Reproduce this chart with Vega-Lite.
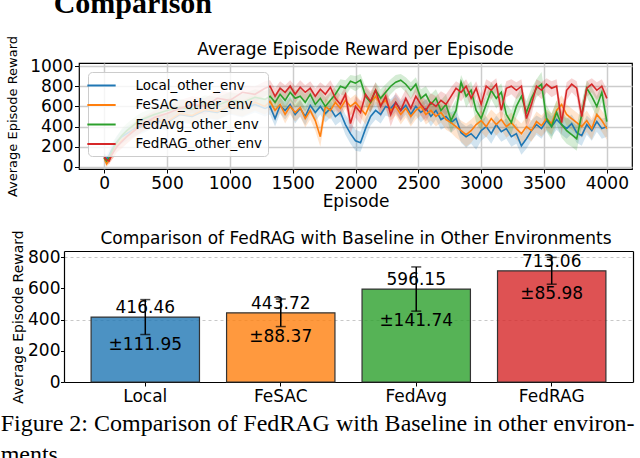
{
  "$schema": "https://vega.github.io/schema/vega-lite/v6.json",
  "padding": {"left": 0, "top": -11, "right": 0, "bottom": 0},
  "title": {
    "text": ["Figure 2: Comparison of FedRAG with Baseline in other environ-", "ments"],
    "orient": "bottom",
    "anchor": "start",
    "frame": "bounds",
    "font": "Liberation Serif",
    "fontSize": 24,
    "fontWeight": "normal",
    "color": "black",
    "baseline": "top",
    "lineHeight": 31,
    "offset": 7.3,
    "dx": -5
  },
  "config": {
    "font": "DejaVu Sans",
    "view": {"stroke": "black", "strokeWidth": 1.2},
    "axis": {
      "labelFont": "DejaVu Sans",
      "titleFont": "DejaVu Sans",
      "labelColor": "black",
      "titleColor": "black",
      "titleFontWeight": "normal",
      "tickColor": "black",
      "domain": false,
      "labelOverlap": false
    },
    "axisY": {"labelOverlap": false},
    "text": {"font": "DejaVu Sans", "color": "black"}
  },
  "spacing": 19,
  "datasets": {
    "curves": [
      {"s":"Local_other_env","e":0,"v":100,"lo":70,"hi":130},
      {"s":"Local_other_env","e":20,"v":80,"lo":40,"hi":120},
      {"s":"Local_other_env","e":40,"v":120,"lo":70,"hi":170},
      {"s":"Local_other_env","e":60,"v":170,"lo":110,"hi":230},
      {"s":"Local_other_env","e":80,"v":210,"lo":150,"hi":270},
      {"s":"Local_other_env","e":100,"v":250,"lo":180,"hi":310},
      {"s":"Local_other_env","e":140,"v":300,"lo":230,"hi":370},
      {"s":"Local_other_env","e":180,"v":330,"lo":260,"hi":400},
      {"s":"Local_other_env","e":220,"v":360,"lo":290,"hi":430},
      {"s":"Local_other_env","e":260,"v":390,"lo":320,"hi":460},
      {"s":"Local_other_env","e":300,"v":400,"lo":330,"hi":470},
      {"s":"Local_other_env","e":400,"v":460,"lo":390,"hi":530},
      {"s":"Local_other_env","e":500,"v":440,"lo":360,"hi":520},
      {"s":"Local_other_env","e":600,"v":520,"lo":440,"hi":600},
      {"s":"Local_other_env","e":700,"v":500,"lo":420,"hi":580},
      {"s":"Local_other_env","e":800,"v":560,"lo":480,"hi":640},
      {"s":"Local_other_env","e":900,"v":540,"lo":460,"hi":620},
      {"s":"Local_other_env","e":1000,"v":600,"lo":520,"hi":680},
      {"s":"Local_other_env","e":1100,"v":570,"lo":490,"hi":650},
      {"s":"Local_other_env","e":1200,"v":620,"lo":540,"hi":700},
      {"s":"Local_other_env","e":1280,"v":580,"lo":500,"hi":660},
      {"s":"Local_other_env","e":1320,"v":600,"lo":520,"hi":680},
      {"s":"Local_other_env","e":1360,"v":480,"lo":400,"hi":570},
      {"s":"Local_other_env","e":1400,"v":610,"lo":530,"hi":690},
      {"s":"Local_other_env","e":1440,"v":560,"lo":470,"hi":640},
      {"s":"Local_other_env","e":1480,"v":620,"lo":540,"hi":700},
      {"s":"Local_other_env","e":1520,"v":520,"lo":430,"hi":600},
      {"s":"Local_other_env","e":1560,"v":580,"lo":500,"hi":660},
      {"s":"Local_other_env","e":1600,"v":500,"lo":410,"hi":590},
      {"s":"Local_other_env","e":1640,"v":610,"lo":530,"hi":690},
      {"s":"Local_other_env","e":1680,"v":540,"lo":450,"hi":620},
      {"s":"Local_other_env","e":1720,"v":600,"lo":520,"hi":680},
      {"s":"Local_other_env","e":1760,"v":530,"lo":440,"hi":610},
      {"s":"Local_other_env","e":1800,"v":580,"lo":490,"hi":660},
      {"s":"Local_other_env","e":1840,"v":500,"lo":410,"hi":590},
      {"s":"Local_other_env","e":1880,"v":540,"lo":450,"hi":630},
      {"s":"Local_other_env","e":1920,"v":420,"lo":320,"hi":520},
      {"s":"Local_other_env","e":1960,"v":330,"lo":230,"hi":440},
      {"s":"Local_other_env","e":2000,"v":260,"lo":160,"hi":370},
      {"s":"Local_other_env","e":2040,"v":240,"lo":150,"hi":350},
      {"s":"Local_other_env","e":2080,"v":380,"lo":280,"hi":480},
      {"s":"Local_other_env","e":2120,"v":500,"lo":410,"hi":590},
      {"s":"Local_other_env","e":2160,"v":560,"lo":470,"hi":650},
      {"s":"Local_other_env","e":2200,"v":520,"lo":430,"hi":610},
      {"s":"Local_other_env","e":2240,"v":600,"lo":510,"hi":690},
      {"s":"Local_other_env","e":2280,"v":580,"lo":490,"hi":670},
      {"s":"Local_other_env","e":2320,"v":640,"lo":550,"hi":720},
      {"s":"Local_other_env","e":2360,"v":560,"lo":460,"hi":650},
      {"s":"Local_other_env","e":2400,"v":610,"lo":520,"hi":700},
      {"s":"Local_other_env","e":2440,"v":520,"lo":420,"hi":610},
      {"s":"Local_other_env","e":2480,"v":600,"lo":510,"hi":690},
      {"s":"Local_other_env","e":2520,"v":540,"lo":440,"hi":630},
      {"s":"Local_other_env","e":2560,"v":580,"lo":490,"hi":670},
      {"s":"Local_other_env","e":2600,"v":500,"lo":400,"hi":590},
      {"s":"Local_other_env","e":2640,"v":560,"lo":470,"hi":650},
      {"s":"Local_other_env","e":2680,"v":470,"lo":370,"hi":560},
      {"s":"Local_other_env","e":2720,"v":500,"lo":400,"hi":590},
      {"s":"Local_other_env","e":2760,"v":440,"lo":340,"hi":540},
      {"s":"Local_other_env","e":2800,"v":480,"lo":380,"hi":570},
      {"s":"Local_other_env","e":2840,"v":340,"lo":240,"hi":440},
      {"s":"Local_other_env","e":2880,"v":300,"lo":190,"hi":400},
      {"s":"Local_other_env","e":2920,"v":330,"lo":230,"hi":430},
      {"s":"Local_other_env","e":2960,"v":280,"lo":170,"hi":380},
      {"s":"Local_other_env","e":3000,"v":360,"lo":260,"hi":460},
      {"s":"Local_other_env","e":3040,"v":400,"lo":300,"hi":500},
      {"s":"Local_other_env","e":3080,"v":330,"lo":230,"hi":430},
      {"s":"Local_other_env","e":3120,"v":420,"lo":320,"hi":510},
      {"s":"Local_other_env","e":3160,"v":350,"lo":250,"hi":450},
      {"s":"Local_other_env","e":3200,"v":380,"lo":280,"hi":480},
      {"s":"Local_other_env","e":3240,"v":300,"lo":200,"hi":400},
      {"s":"Local_other_env","e":3280,"v":330,"lo":230,"hi":430},
      {"s":"Local_other_env","e":3320,"v":210,"lo":120,"hi":310},
      {"s":"Local_other_env","e":3360,"v":280,"lo":180,"hi":380},
      {"s":"Local_other_env","e":3400,"v":360,"lo":260,"hi":460},
      {"s":"Local_other_env","e":3440,"v":420,"lo":320,"hi":510},
      {"s":"Local_other_env","e":3480,"v":380,"lo":280,"hi":480},
      {"s":"Local_other_env","e":3520,"v":460,"lo":360,"hi":550},
      {"s":"Local_other_env","e":3560,"v":400,"lo":300,"hi":500},
      {"s":"Local_other_env","e":3600,"v":470,"lo":370,"hi":560},
      {"s":"Local_other_env","e":3640,"v":420,"lo":320,"hi":510},
      {"s":"Local_other_env","e":3680,"v":380,"lo":280,"hi":480},
      {"s":"Local_other_env","e":3720,"v":430,"lo":330,"hi":520},
      {"s":"Local_other_env","e":3760,"v":340,"lo":240,"hi":440},
      {"s":"Local_other_env","e":3800,"v":310,"lo":210,"hi":410},
      {"s":"Local_other_env","e":3840,"v":420,"lo":320,"hi":510},
      {"s":"Local_other_env","e":3880,"v":360,"lo":260,"hi":460},
      {"s":"Local_other_env","e":3920,"v":450,"lo":350,"hi":540},
      {"s":"Local_other_env","e":3960,"v":380,"lo":280,"hi":480},
      {"s":"Local_other_env","e":4000,"v":400,"lo":300,"hi":490},

      {"s":"FeSAC_other_env","e":0,"v":90,"lo":60,"hi":120},
      {"s":"FeSAC_other_env","e":20,"v":30,"lo":0,"hi":70},
      {"s":"FeSAC_other_env","e":40,"v":70,"lo":30,"hi":110},
      {"s":"FeSAC_other_env","e":60,"v":120,"lo":70,"hi":170},
      {"s":"FeSAC_other_env","e":80,"v":170,"lo":110,"hi":230},
      {"s":"FeSAC_other_env","e":100,"v":210,"lo":150,"hi":270},
      {"s":"FeSAC_other_env","e":140,"v":260,"lo":190,"hi":330},
      {"s":"FeSAC_other_env","e":180,"v":300,"lo":230,"hi":370},
      {"s":"FeSAC_other_env","e":220,"v":350,"lo":280,"hi":420},
      {"s":"FeSAC_other_env","e":260,"v":380,"lo":310,"hi":450},
      {"s":"FeSAC_other_env","e":300,"v":420,"lo":350,"hi":490},
      {"s":"FeSAC_other_env","e":400,"v":470,"lo":400,"hi":540},
      {"s":"FeSAC_other_env","e":500,"v":450,"lo":370,"hi":530},
      {"s":"FeSAC_other_env","e":600,"v":530,"lo":450,"hi":610},
      {"s":"FeSAC_other_env","e":700,"v":510,"lo":430,"hi":590},
      {"s":"FeSAC_other_env","e":800,"v":570,"lo":490,"hi":650},
      {"s":"FeSAC_other_env","e":900,"v":550,"lo":470,"hi":630},
      {"s":"FeSAC_other_env","e":1000,"v":610,"lo":530,"hi":690},
      {"s":"FeSAC_other_env","e":1100,"v":580,"lo":500,"hi":660},
      {"s":"FeSAC_other_env","e":1200,"v":640,"lo":560,"hi":720},
      {"s":"FeSAC_other_env","e":1280,"v":600,"lo":520,"hi":680},
      {"s":"FeSAC_other_env","e":1320,"v":650,"lo":570,"hi":730},
      {"s":"FeSAC_other_env","e":1360,"v":560,"lo":470,"hi":640},
      {"s":"FeSAC_other_env","e":1400,"v":620,"lo":540,"hi":700},
      {"s":"FeSAC_other_env","e":1440,"v":520,"lo":430,"hi":610},
      {"s":"FeSAC_other_env","e":1480,"v":600,"lo":520,"hi":680},
      {"s":"FeSAC_other_env","e":1520,"v":540,"lo":450,"hi":620},
      {"s":"FeSAC_other_env","e":1560,"v":590,"lo":500,"hi":670},
      {"s":"FeSAC_other_env","e":1600,"v":480,"lo":390,"hi":570},
      {"s":"FeSAC_other_env","e":1640,"v":560,"lo":470,"hi":640},
      {"s":"FeSAC_other_env","e":1680,"v":460,"lo":360,"hi":550},
      {"s":"FeSAC_other_env","e":1720,"v":300,"lo":200,"hi":400},
      {"s":"FeSAC_other_env","e":1760,"v":600,"lo":510,"hi":680},
      {"s":"FeSAC_other_env","e":1800,"v":560,"lo":470,"hi":640},
      {"s":"FeSAC_other_env","e":1840,"v":640,"lo":560,"hi":720},
      {"s":"FeSAC_other_env","e":1880,"v":580,"lo":490,"hi":660},
      {"s":"FeSAC_other_env","e":1920,"v":660,"lo":580,"hi":740},
      {"s":"FeSAC_other_env","e":1960,"v":600,"lo":510,"hi":680},
      {"s":"FeSAC_other_env","e":2000,"v":640,"lo":560,"hi":720},
      {"s":"FeSAC_other_env","e":2040,"v":580,"lo":490,"hi":660},
      {"s":"FeSAC_other_env","e":2080,"v":520,"lo":420,"hi":610},
      {"s":"FeSAC_other_env","e":2120,"v":640,"lo":550,"hi":720},
      {"s":"FeSAC_other_env","e":2160,"v":700,"lo":620,"hi":780},
      {"s":"FeSAC_other_env","e":2200,"v":620,"lo":530,"hi":700},
      {"s":"FeSAC_other_env","e":2240,"v":660,"lo":570,"hi":740},
      {"s":"FeSAC_other_env","e":2280,"v":560,"lo":460,"hi":650},
      {"s":"FeSAC_other_env","e":2320,"v":600,"lo":510,"hi":690},
      {"s":"FeSAC_other_env","e":2360,"v":520,"lo":420,"hi":610},
      {"s":"FeSAC_other_env","e":2400,"v":580,"lo":490,"hi":670},
      {"s":"FeSAC_other_env","e":2440,"v":500,"lo":400,"hi":590},
      {"s":"FeSAC_other_env","e":2480,"v":560,"lo":470,"hi":650},
      {"s":"FeSAC_other_env","e":2520,"v":600,"lo":510,"hi":690},
      {"s":"FeSAC_other_env","e":2560,"v":520,"lo":420,"hi":610},
      {"s":"FeSAC_other_env","e":2600,"v":560,"lo":460,"hi":650},
      {"s":"FeSAC_other_env","e":2640,"v":500,"lo":400,"hi":590},
      {"s":"FeSAC_other_env","e":2680,"v":540,"lo":440,"hi":630},
      {"s":"FeSAC_other_env","e":2720,"v":470,"lo":370,"hi":560},
      {"s":"FeSAC_other_env","e":2760,"v":440,"lo":340,"hi":530},
      {"s":"FeSAC_other_env","e":2800,"v":400,"lo":290,"hi":500},
      {"s":"FeSAC_other_env","e":2840,"v":360,"lo":250,"hi":460},
      {"s":"FeSAC_other_env","e":2880,"v":320,"lo":200,"hi":430},
      {"s":"FeSAC_other_env","e":2920,"v":360,"lo":240,"hi":470},
      {"s":"FeSAC_other_env","e":2960,"v":420,"lo":310,"hi":520},
      {"s":"FeSAC_other_env","e":3000,"v":460,"lo":350,"hi":560},
      {"s":"FeSAC_other_env","e":3040,"v":400,"lo":290,"hi":500},
      {"s":"FeSAC_other_env","e":3080,"v":480,"lo":380,"hi":570},
      {"s":"FeSAC_other_env","e":3120,"v":420,"lo":310,"hi":520},
      {"s":"FeSAC_other_env","e":3160,"v":470,"lo":370,"hi":560},
      {"s":"FeSAC_other_env","e":3200,"v":400,"lo":290,"hi":500},
      {"s":"FeSAC_other_env","e":3240,"v":440,"lo":330,"hi":540},
      {"s":"FeSAC_other_env","e":3280,"v":380,"lo":270,"hi":480},
      {"s":"FeSAC_other_env","e":3320,"v":330,"lo":220,"hi":430},
      {"s":"FeSAC_other_env","e":3360,"v":400,"lo":290,"hi":500},
      {"s":"FeSAC_other_env","e":3400,"v":360,"lo":250,"hi":460},
      {"s":"FeSAC_other_env","e":3440,"v":450,"lo":340,"hi":550},
      {"s":"FeSAC_other_env","e":3480,"v":410,"lo":300,"hi":510},
      {"s":"FeSAC_other_env","e":3520,"v":480,"lo":370,"hi":570},
      {"s":"FeSAC_other_env","e":3560,"v":430,"lo":320,"hi":530},
      {"s":"FeSAC_other_env","e":3600,"v":560,"lo":460,"hi":650},
      {"s":"FeSAC_other_env","e":3640,"v":620,"lo":520,"hi":710},
      {"s":"FeSAC_other_env","e":3680,"v":520,"lo":410,"hi":620},
      {"s":"FeSAC_other_env","e":3720,"v":480,"lo":370,"hi":580},
      {"s":"FeSAC_other_env","e":3760,"v":440,"lo":330,"hi":540},
      {"s":"FeSAC_other_env","e":3800,"v":400,"lo":290,"hi":500},
      {"s":"FeSAC_other_env","e":3840,"v":460,"lo":350,"hi":560},
      {"s":"FeSAC_other_env","e":3880,"v":380,"lo":270,"hi":480},
      {"s":"FeSAC_other_env","e":3920,"v":520,"lo":410,"hi":620},
      {"s":"FeSAC_other_env","e":3960,"v":460,"lo":350,"hi":560},
      {"s":"FeSAC_other_env","e":4000,"v":380,"lo":270,"hi":480},

      {"s":"FedAvg_other_env","e":0,"v":90,"lo":60,"hi":120},
      {"s":"FedAvg_other_env","e":20,"v":60,"lo":30,"hi":100},
      {"s":"FedAvg_other_env","e":40,"v":90,"lo":50,"hi":130},
      {"s":"FedAvg_other_env","e":60,"v":150,"lo":100,"hi":200},
      {"s":"FedAvg_other_env","e":80,"v":200,"lo":140,"hi":260},
      {"s":"FedAvg_other_env","e":100,"v":240,"lo":180,"hi":300},
      {"s":"FedAvg_other_env","e":140,"v":310,"lo":240,"hi":380},
      {"s":"FedAvg_other_env","e":180,"v":360,"lo":290,"hi":430},
      {"s":"FedAvg_other_env","e":220,"v":400,"lo":330,"hi":470},
      {"s":"FedAvg_other_env","e":260,"v":440,"lo":370,"hi":510},
      {"s":"FedAvg_other_env","e":300,"v":470,"lo":400,"hi":540},
      {"s":"FedAvg_other_env","e":400,"v":520,"lo":450,"hi":590},
      {"s":"FedAvg_other_env","e":500,"v":560,"lo":480,"hi":640},
      {"s":"FedAvg_other_env","e":600,"v":590,"lo":510,"hi":670},
      {"s":"FedAvg_other_env","e":700,"v":570,"lo":490,"hi":650},
      {"s":"FedAvg_other_env","e":800,"v":630,"lo":550,"hi":710},
      {"s":"FedAvg_other_env","e":900,"v":610,"lo":530,"hi":690},
      {"s":"FedAvg_other_env","e":1000,"v":660,"lo":580,"hi":740},
      {"s":"FedAvg_other_env","e":1100,"v":640,"lo":560,"hi":720},
      {"s":"FedAvg_other_env","e":1200,"v":690,"lo":610,"hi":770},
      {"s":"FedAvg_other_env","e":1280,"v":670,"lo":590,"hi":750},
      {"s":"FedAvg_other_env","e":1320,"v":700,"lo":620,"hi":780},
      {"s":"FedAvg_other_env","e":1360,"v":640,"lo":550,"hi":720},
      {"s":"FedAvg_other_env","e":1400,"v":720,"lo":640,"hi":800},
      {"s":"FedAvg_other_env","e":1440,"v":660,"lo":570,"hi":740},
      {"s":"FedAvg_other_env","e":1480,"v":740,"lo":660,"hi":820},
      {"s":"FedAvg_other_env","e":1520,"v":680,"lo":590,"hi":760},
      {"s":"FedAvg_other_env","e":1560,"v":700,"lo":610,"hi":780},
      {"s":"FedAvg_other_env","e":1600,"v":640,"lo":550,"hi":720},
      {"s":"FedAvg_other_env","e":1640,"v":720,"lo":640,"hi":800},
      {"s":"FedAvg_other_env","e":1680,"v":620,"lo":520,"hi":710},
      {"s":"FedAvg_other_env","e":1720,"v":680,"lo":590,"hi":760},
      {"s":"FedAvg_other_env","e":1760,"v":600,"lo":500,"hi":690},
      {"s":"FedAvg_other_env","e":1800,"v":660,"lo":570,"hi":740},
      {"s":"FedAvg_other_env","e":1840,"v":720,"lo":630,"hi":800},
      {"s":"FedAvg_other_env","e":1880,"v":800,"lo":720,"hi":870},
      {"s":"FedAvg_other_env","e":1920,"v":780,"lo":700,"hi":860},
      {"s":"FedAvg_other_env","e":1960,"v":850,"lo":780,"hi":910},
      {"s":"FedAvg_other_env","e":2000,"v":830,"lo":750,"hi":900},
      {"s":"FedAvg_other_env","e":2040,"v":860,"lo":790,"hi":920},
      {"s":"FedAvg_other_env","e":2080,"v":700,"lo":600,"hi":790},
      {"s":"FedAvg_other_env","e":2120,"v":640,"lo":540,"hi":730},
      {"s":"FedAvg_other_env","e":2160,"v":760,"lo":670,"hi":840},
      {"s":"FedAvg_other_env","e":2200,"v":680,"lo":580,"hi":770},
      {"s":"FedAvg_other_env","e":2240,"v":740,"lo":650,"hi":820},
      {"s":"FedAvg_other_env","e":2280,"v":800,"lo":720,"hi":870},
      {"s":"FedAvg_other_env","e":2320,"v":840,"lo":770,"hi":910},
      {"s":"FedAvg_other_env","e":2360,"v":860,"lo":790,"hi":920},
      {"s":"FedAvg_other_env","e":2400,"v":820,"lo":740,"hi":890},
      {"s":"FedAvg_other_env","e":2440,"v":760,"lo":670,"hi":840},
      {"s":"FedAvg_other_env","e":2480,"v":820,"lo":740,"hi":890},
      {"s":"FedAvg_other_env","e":2520,"v":680,"lo":580,"hi":770},
      {"s":"FedAvg_other_env","e":2560,"v":720,"lo":630,"hi":800},
      {"s":"FedAvg_other_env","e":2600,"v":620,"lo":510,"hi":720},
      {"s":"FedAvg_other_env","e":2640,"v":680,"lo":580,"hi":770},
      {"s":"FedAvg_other_env","e":2680,"v":560,"lo":450,"hi":660},
      {"s":"FedAvg_other_env","e":2720,"v":620,"lo":510,"hi":720},
      {"s":"FedAvg_other_env","e":2760,"v":460,"lo":340,"hi":570},
      {"s":"FedAvg_other_env","e":2800,"v":560,"lo":440,"hi":670},
      {"s":"FedAvg_other_env","e":2840,"v":840,"lo":760,"hi":910},
      {"s":"FedAvg_other_env","e":2880,"v":700,"lo":590,"hi":800},
      {"s":"FedAvg_other_env","e":2920,"v":760,"lo":660,"hi":850},
      {"s":"FedAvg_other_env","e":2960,"v":560,"lo":440,"hi":670},
      {"s":"FedAvg_other_env","e":3000,"v":480,"lo":360,"hi":600},
      {"s":"FedAvg_other_env","e":3040,"v":620,"lo":510,"hi":720},
      {"s":"FedAvg_other_env","e":3080,"v":760,"lo":670,"hi":840},
      {"s":"FedAvg_other_env","e":3120,"v":680,"lo":580,"hi":770},
      {"s":"FedAvg_other_env","e":3160,"v":740,"lo":640,"hi":830},
      {"s":"FedAvg_other_env","e":3200,"v":520,"lo":400,"hi":630},
      {"s":"FedAvg_other_env","e":3240,"v":440,"lo":320,"hi":560},
      {"s":"FedAvg_other_env","e":3280,"v":600,"lo":490,"hi":700},
      {"s":"FedAvg_other_env","e":3320,"v":700,"lo":600,"hi":790},
      {"s":"FedAvg_other_env","e":3360,"v":540,"lo":420,"hi":650},
      {"s":"FedAvg_other_env","e":3400,"v":680,"lo":570,"hi":780},
      {"s":"FedAvg_other_env","e":3440,"v":780,"lo":690,"hi":870},
      {"s":"FedAvg_other_env","e":3480,"v":820,"lo":730,"hi":940},
      {"s":"FedAvg_other_env","e":3520,"v":480,"lo":350,"hi":610},
      {"s":"FedAvg_other_env","e":3560,"v":400,"lo":270,"hi":530},
      {"s":"FedAvg_other_env","e":3600,"v":540,"lo":420,"hi":660},
      {"s":"FedAvg_other_env","e":3640,"v":420,"lo":290,"hi":550},
      {"s":"FedAvg_other_env","e":3680,"v":360,"lo":230,"hi":490},
      {"s":"FedAvg_other_env","e":3720,"v":320,"lo":200,"hi":450},
      {"s":"FedAvg_other_env","e":3760,"v":280,"lo":160,"hi":410},
      {"s":"FedAvg_other_env","e":3800,"v":520,"lo":400,"hi":640},
      {"s":"FedAvg_other_env","e":3840,"v":780,"lo":690,"hi":860},
      {"s":"FedAvg_other_env","e":3880,"v":700,"lo":600,"hi":790},
      {"s":"FedAvg_other_env","e":3920,"v":600,"lo":490,"hi":700},
      {"s":"FedAvg_other_env","e":3960,"v":740,"lo":640,"hi":830},
      {"s":"FedAvg_other_env","e":4000,"v":450,"lo":340,"hi":560},

      {"s":"FedRAG_other_env","e":0,"v":100,"lo":70,"hi":130},
      {"s":"FedRAG_other_env","e":20,"v":70,"lo":40,"hi":100},
      {"s":"FedRAG_other_env","e":40,"v":60,"lo":30,"hi":100},
      {"s":"FedRAG_other_env","e":60,"v":120,"lo":70,"hi":170},
      {"s":"FedRAG_other_env","e":80,"v":160,"lo":100,"hi":220},
      {"s":"FedRAG_other_env","e":100,"v":200,"lo":140,"hi":260},
      {"s":"FedRAG_other_env","e":140,"v":250,"lo":180,"hi":320},
      {"s":"FedRAG_other_env","e":180,"v":300,"lo":230,"hi":370},
      {"s":"FedRAG_other_env","e":220,"v":340,"lo":270,"hi":410},
      {"s":"FedRAG_other_env","e":260,"v":380,"lo":310,"hi":450},
      {"s":"FedRAG_other_env","e":300,"v":420,"lo":350,"hi":490},
      {"s":"FedRAG_other_env","e":400,"v":490,"lo":420,"hi":560},
      {"s":"FedRAG_other_env","e":500,"v":530,"lo":450,"hi":610},
      {"s":"FedRAG_other_env","e":600,"v":580,"lo":500,"hi":660},
      {"s":"FedRAG_other_env","e":700,"v":620,"lo":540,"hi":700},
      {"s":"FedRAG_other_env","e":800,"v":600,"lo":520,"hi":680},
      {"s":"FedRAG_other_env","e":900,"v":680,"lo":600,"hi":760},
      {"s":"FedRAG_other_env","e":1000,"v":660,"lo":580,"hi":740},
      {"s":"FedRAG_other_env","e":1100,"v":740,"lo":660,"hi":810},
      {"s":"FedRAG_other_env","e":1200,"v":720,"lo":640,"hi":800},
      {"s":"FedRAG_other_env","e":1280,"v":780,"lo":700,"hi":850},
      {"s":"FedRAG_other_env","e":1320,"v":800,"lo":730,"hi":860},
      {"s":"FedRAG_other_env","e":1360,"v":700,"lo":610,"hi":780},
      {"s":"FedRAG_other_env","e":1400,"v":780,"lo":700,"hi":850},
      {"s":"FedRAG_other_env","e":1440,"v":740,"lo":650,"hi":810},
      {"s":"FedRAG_other_env","e":1480,"v":800,"lo":730,"hi":860},
      {"s":"FedRAG_other_env","e":1520,"v":720,"lo":630,"hi":800},
      {"s":"FedRAG_other_env","e":1560,"v":790,"lo":710,"hi":860},
      {"s":"FedRAG_other_env","e":1600,"v":740,"lo":650,"hi":810},
      {"s":"FedRAG_other_env","e":1640,"v":780,"lo":700,"hi":850},
      {"s":"FedRAG_other_env","e":1680,"v":700,"lo":610,"hi":780},
      {"s":"FedRAG_other_env","e":1720,"v":770,"lo":690,"hi":840},
      {"s":"FedRAG_other_env","e":1760,"v":720,"lo":630,"hi":800},
      {"s":"FedRAG_other_env","e":1800,"v":790,"lo":710,"hi":860},
      {"s":"FedRAG_other_env","e":1840,"v":680,"lo":580,"hi":770},
      {"s":"FedRAG_other_env","e":1880,"v":620,"lo":520,"hi":710},
      {"s":"FedRAG_other_env","e":1920,"v":720,"lo":620,"hi":800},
      {"s":"FedRAG_other_env","e":1960,"v":430,"lo":320,"hi":540},
      {"s":"FedRAG_other_env","e":2000,"v":600,"lo":490,"hi":700},
      {"s":"FedRAG_other_env","e":2040,"v":540,"lo":420,"hi":650},
      {"s":"FedRAG_other_env","e":2080,"v":720,"lo":620,"hi":810},
      {"s":"FedRAG_other_env","e":2120,"v":650,"lo":540,"hi":750},
      {"s":"FedRAG_other_env","e":2160,"v":760,"lo":670,"hi":840},
      {"s":"FedRAG_other_env","e":2200,"v":600,"lo":490,"hi":700},
      {"s":"FedRAG_other_env","e":2240,"v":700,"lo":600,"hi":790},
      {"s":"FedRAG_other_env","e":2280,"v":520,"lo":400,"hi":630},
      {"s":"FedRAG_other_env","e":2320,"v":640,"lo":530,"hi":740},
      {"s":"FedRAG_other_env","e":2360,"v":560,"lo":450,"hi":670},
      {"s":"FedRAG_other_env","e":2400,"v":680,"lo":580,"hi":770},
      {"s":"FedRAG_other_env","e":2440,"v":580,"lo":470,"hi":680},
      {"s":"FedRAG_other_env","e":2480,"v":700,"lo":600,"hi":790},
      {"s":"FedRAG_other_env","e":2520,"v":620,"lo":510,"hi":720},
      {"s":"FedRAG_other_env","e":2560,"v":560,"lo":450,"hi":660},
      {"s":"FedRAG_other_env","e":2600,"v":640,"lo":540,"hi":730},
      {"s":"FedRAG_other_env","e":2640,"v":600,"lo":490,"hi":700},
      {"s":"FedRAG_other_env","e":2680,"v":660,"lo":560,"hi":750},
      {"s":"FedRAG_other_env","e":2720,"v":620,"lo":510,"hi":720},
      {"s":"FedRAG_other_env","e":2760,"v":700,"lo":600,"hi":790},
      {"s":"FedRAG_other_env","e":2800,"v":780,"lo":700,"hi":850},
      {"s":"FedRAG_other_env","e":2840,"v":740,"lo":650,"hi":820},
      {"s":"FedRAG_other_env","e":2880,"v":800,"lo":720,"hi":870},
      {"s":"FedRAG_other_env","e":2920,"v":680,"lo":580,"hi":770},
      {"s":"FedRAG_other_env","e":2960,"v":780,"lo":700,"hi":850},
      {"s":"FedRAG_other_env","e":3000,"v":620,"lo":510,"hi":720},
      {"s":"FedRAG_other_env","e":3040,"v":800,"lo":720,"hi":870},
      {"s":"FedRAG_other_env","e":3080,"v":760,"lo":670,"hi":840},
      {"s":"FedRAG_other_env","e":3120,"v":820,"lo":740,"hi":880},
      {"s":"FedRAG_other_env","e":3160,"v":560,"lo":440,"hi":670},
      {"s":"FedRAG_other_env","e":3200,"v":780,"lo":690,"hi":850},
      {"s":"FedRAG_other_env","e":3240,"v":800,"lo":720,"hi":870},
      {"s":"FedRAG_other_env","e":3280,"v":760,"lo":670,"hi":840},
      {"s":"FedRAG_other_env","e":3320,"v":800,"lo":720,"hi":870},
      {"s":"FedRAG_other_env","e":3360,"v":480,"lo":360,"hi":600},
      {"s":"FedRAG_other_env","e":3400,"v":620,"lo":510,"hi":720},
      {"s":"FedRAG_other_env","e":3440,"v":800,"lo":720,"hi":870},
      {"s":"FedRAG_other_env","e":3480,"v":760,"lo":670,"hi":840},
      {"s":"FedRAG_other_env","e":3520,"v":820,"lo":740,"hi":880},
      {"s":"FedRAG_other_env","e":3560,"v":780,"lo":690,"hi":850},
      {"s":"FedRAG_other_env","e":3600,"v":800,"lo":720,"hi":870},
      {"s":"FedRAG_other_env","e":3640,"v":440,"lo":320,"hi":560},
      {"s":"FedRAG_other_env","e":3680,"v":760,"lo":660,"hi":840},
      {"s":"FedRAG_other_env","e":3720,"v":820,"lo":740,"hi":880},
      {"s":"FedRAG_other_env","e":3760,"v":780,"lo":690,"hi":850},
      {"s":"FedRAG_other_env","e":3800,"v":500,"lo":380,"hi":620},
      {"s":"FedRAG_other_env","e":3840,"v":780,"lo":690,"hi":850},
      {"s":"FedRAG_other_env","e":3880,"v":820,"lo":740,"hi":880},
      {"s":"FedRAG_other_env","e":3920,"v":760,"lo":660,"hi":840},
      {"s":"FedRAG_other_env","e":3960,"v":800,"lo":720,"hi":870},
      {"s":"FedRAG_other_env","e":4000,"v":680,"lo":580,"hi":770}
    ],
    "bars": [
      {"m":"Local","mean":416.46,"std":111.95,"lo":304.51,"hi":528.41,"pm":"±111.95"},
      {"m":"FeSAC","mean":443.72,"std":88.37,"lo":355.35,"hi":532.09,"pm":"±88.37"},
      {"m":"FedAvg","mean":596.15,"std":141.74,"lo":454.41,"hi":737.89,"pm":"±141.74"},
      {"m":"FedRAG","mean":713.06,"std":85.98,"lo":627.08,"hi":799.04,"pm":"±85.98"}
    ]
  },
  "vconcat": [
    {
      "title": {
        "text": "Comparison",
        "font": "Liberation Serif",
        "fontSize": 30,
        "fontWeight": "bold",
        "color": "black",
        "anchor": "start",
        "frame": "bounds",
        "baseline": "alphabetic",
        "offset": -8.6,
        "dx": 48
      },
      "hconcat": [
        {
          "width": 553,
          "height": 106,
          "title": {
            "text": "Average Episode Reward per Episode",
            "font": "DejaVu Sans",
            "fontSize": 17,
            "fontWeight": "normal",
            "color": "black",
            "anchor": "middle",
            "baseline": "alphabetic",
            "offset": -36.5
          },
          "data": {"name": "curves"},
          "encoding": {
            "x": {
              "field": "e",
              "type": "quantitative",
              "scale": {"domain": [-200, 4200], "nice": false, "zero": false},
              "axis": {
                "title": "Episode",
                "titleFontSize": 17,
                "titlePadding": 2,
                "labelFontSize": 17,
                "labelPadding": 2,
                "labelFlush": false,
                "labelOverlap": false,
                "format": "d",
                "tickSize": 4,
                "values": [0, 500, 1000, 1500, 2000, 2500, 3000, 3500, 4000],
                "grid": true,
                "gridColor": "#cccccc",
                "gridWidth": 1.5
              }
            }
          },
          "layer": [
            {
              "mark": {"type": "area", "opacity": 0.2},
              "encoding": {
                "y": {
                  "field": "lo",
                  "type": "quantitative",
                  "title": "Average Episode Reward",
                  "scale": {"domain": [-20, 1030], "nice": false, "zero": false},
                  "axis": {
                    "titleFontSize": 13,
                    "titlePadding": 10.5,
                    "labelFontSize": 17,
                    "labelPadding": 1.5,
                    "labelOverlap": false,
                    "format": "d",
                    "tickSize": 4.5,
                    "values": [0, 200, 400, 600, 800, 1000],
                    "grid": true,
                    "gridColor": "#cccccc",
                    "gridWidth": 1.5
                  }
                },
                "y2": {"field": "hi"},
                "fill": {
                  "field": "s",
                  "type": "nominal",
                  "scale": {
                    "domain": ["Local_other_env", "FeSAC_other_env", "FedAvg_other_env", "FedRAG_other_env"],
                    "range": ["#1f77b4", "#ff7f0e", "#2ca02c", "#d62728"]
                  },
                  "legend": null
                }
              }
            },
            {
              "mark": {"type": "line", "strokeWidth": 1.6},
              "encoding": {
                "y": {
                  "field": "v",
                  "type": "quantitative",
                  "title": "Average Episode Reward",
                  "axis": {
                    "titleFontSize": 13,
                    "titlePadding": 10.5,
                    "labelFontSize": 17,
                    "labelPadding": 1.5,
                    "labelOverlap": false,
                    "format": "d",
                    "tickSize": 4.5,
                    "values": [0, 200, 400, 600, 800, 1000],
                    "grid": true,
                    "gridColor": "#cccccc",
                    "gridWidth": 1.5
                  }
                },
                "color": {
                  "field": "s",
                  "type": "nominal",
                  "scale": {
                    "domain": ["Local_other_env", "FeSAC_other_env", "FedAvg_other_env", "FedRAG_other_env"],
                    "range": ["#1f77b4", "#ff7f0e", "#2ca02c", "#d62728"]
                  },
                  "legend": {
                    "title": null,
                    "orient": "top-left",
                    "offset": 9,
                    "padding": 5.5,
                    "rowPadding": 4.5,
                    "symbolType": "M-2.1,0H2.1",
                    "symbolSize": 182,
                    "symbolStrokeWidth": 2,
                    "symbolOpacity": 1,
                    "labelFont": "DejaVu Sans",
                    "labelFontSize": 13.5,
                    "labelColor": "black",
                    "labelOffset": 26,
                    "fillColor": "rgba(255,255,255,0.8)",
                    "strokeColor": "#cccccc",
                    "cornerRadius": 4
                  }
                }
              }
            }
          ]
        }
      ]
    },
    {
      "hconcat": [
        {
          "width": 554,
          "height": 131,
          "view": {"stroke": null},
          "title": {
            "text": "Comparison of FedRAG with Baseline in Other Environments",
            "font": "DejaVu Sans",
            "fontSize": 17,
            "fontWeight": "normal",
            "color": "black",
            "anchor": "middle",
            "baseline": "alphabetic",
            "offset": -31.4
          },
          "data": {"name": "bars"},
          "layer": [
            {
              "mark": {"type": "bar", "fillOpacity": 0.8, "stroke": "#333333", "strokeWidth": 1.2},
              "encoding": {
                "x": {
                  "field": "m",
                  "type": "nominal",
                  "sort": null,
                  "title": null,
                  "scale": {"range": [-15, 554], "paddingInner": 0.2, "paddingOuter": 0.2},
                  "axis": {
                    "orient": "bottom",
                    "labelFontSize": 17,
                    "labelAngle": 0,
                    "labelPadding": 2.5,
                    "tickSize": 4,
                    "domain": true,
                    "domainColor": "black",
                    "domainWidth": 1.2
                  }
                },
                "y": {
                  "field": "mean",
                  "type": "quantitative",
                  "title": "Average Episode Reward",
                  "scale": {"domain": [0, 840], "nice": false},
                  "axis": {
                    "orient": "left",
                    "offset": 15,
                    "domain": true,
                    "domainColor": "black",
                    "domainWidth": 1.2,
                    "titleFontSize": 14,
                    "titlePadding": 2.5,
                    "labelFontSize": 17,
                    "labelPadding": 0.5,
                    "labelOverlap": false,
                    "tickSize": 3.5,
                    "values": [0, 200, 400, 600, 800],
                    "grid": true,
                    "gridColor": "#c8c8c8",
                    "gridDash": [3, 3],
                    "gridOpacity": {"condition": {"test": "datum.value % 400 === 0 && datum.value > 0", "value": 1}, "value": 0}
                  }
                },
                "fill": {
                  "field": "m",
                  "type": "nominal",
                  "sort": null,
                  "scale": {
                    "domain": ["Local", "FeSAC", "FedAvg", "FedRAG"],
                    "range": ["#1f77b4", "#ff7f0e", "#2ca02c", "#d62728"]
                  },
                  "legend": null
                }
              }
            },
            {
              "mark": {"type": "text", "baseline": "alphabetic", "dy": -4, "fontSize": 17, "color": "black"},
              "encoding": {
                "x": {"field": "m", "type": "nominal", "sort": null, "axis": null},
                "y": {"field": "mean", "type": "quantitative", "axis": null},
                "text": {"field": "mean", "type": "quantitative", "format": ".2f"}
              }
            },
            {
              "mark": {"type": "text", "baseline": "top", "dy": 2, "fontSize": 17, "color": "black"},
              "encoding": {
                "x": {"field": "m", "type": "nominal", "sort": null, "axis": null},
                "y": {"field": "lo", "type": "quantitative", "axis": null},
                "text": {"field": "pm", "type": "nominal"}
              }
            },
            {
              "mark": {"type": "rule", "strokeWidth": 1.5, "color": "black"},
              "encoding": {
                "x": {
                  "field": "m",
                  "type": "nominal",
                  "sort": null,
                  "title": null,
                  "axis": {
                    "orient": "top",
                    "labels": false,
                    "ticks": false,
                    "grid": false,
                    "domain": true,
                    "domainColor": "black",
                    "domainWidth": 1.2
                  }
                },
                "y": {
                  "field": "lo",
                  "type": "quantitative",
                  "title": null,
                  "axis": {
                    "orient": "right",
                    "labels": false,
                    "ticks": false,
                    "grid": false,
                    "domain": true,
                    "domainColor": "black",
                    "domainWidth": 1.2
                  }
                },
                "y2": {"field": "hi"}
              }
            },
            {
              "mark": {"type": "tick", "orient": "horizontal", "size": 10, "thickness": 1.5, "color": "black"},
              "encoding": {
                "x": {"field": "m", "type": "nominal", "sort": null, "axis": null},
                "y": {"field": "lo", "type": "quantitative", "axis": null}
              }
            },
            {
              "mark": {"type": "tick", "orient": "horizontal", "size": 10, "thickness": 1.5, "color": "black"},
              "encoding": {
                "x": {"field": "m", "type": "nominal", "sort": null, "axis": null},
                "y": {"field": "hi", "type": "quantitative", "axis": null}
              }
            }
          ]
        }
      ]
    }
  ]
}
